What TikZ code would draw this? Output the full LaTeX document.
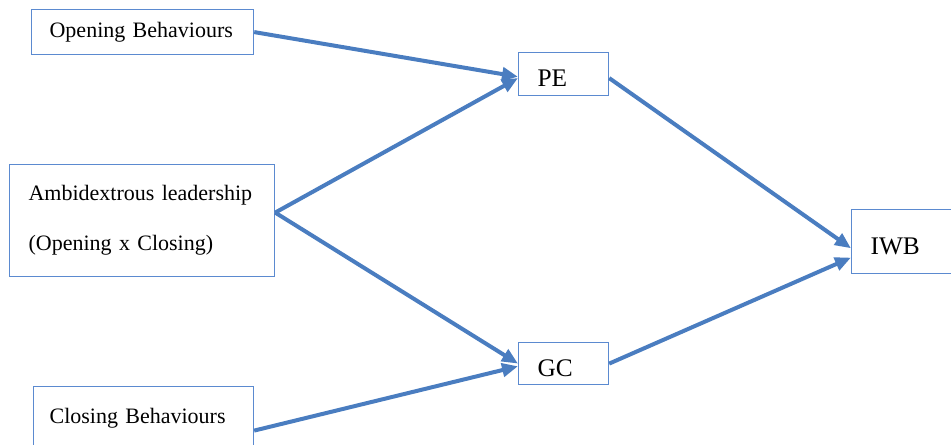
\documentclass[tikz,border=0pt]{standalone}
\usepackage{fontspec}
\setmainfont{Liberation Serif}
\usetikzlibrary{arrows.meta}
\definecolor{arrowblue}{HTML}{4A7DC0}
\definecolor{boxblue}{HTML}{5B8AD0}

\begin{document}
\begin{tikzpicture}[x=0.75pt,y=-0.75pt,
    box/.style={draw=boxblue,line width=0.9pt,anchor=north west,align=left,
      inner ysep=0pt,font=\fontsize{16.5}{37.5}\selectfont},
    var/.style={box,inner xsep=14.25pt,text width=39pt,text height=20pt,text depth=1pt,font=\fontsize{19}{22}\selectfont},
    link/.style={draw=arrowblue,line width=3pt,-{Triangle[length=12pt,width=10pt]}}]
      \useasboundingbox (0,0) rectangle (951,445);

      \path
      (31,9) node[box,inner xsep=13.5pt,text width=139.5pt,minimum height=33.75pt](open) {Opening Behaviours}
      (9,164) node[box,inner xsep=14.25pt,text width=170.25pt,minimum height=84pt](ambi) {Ambidextrous leadership\\(Opening x Closing)}
      (33,386) node[box,inner xsep=12pt,text width=141pt,minimum height=48pt](close) {Closing Behaviours}
      ;
      \path
      (518,52) node[var,minimum height=32.25pt](pe) {PE}
      (518,342) node[var,minimum height=31.5pt](gc) {GC}
      (851,209) node[var,text width=52pt,minimum height=48pt](iwb) {IWB}
      ;

      \draw[link] (open.east) -- ([yshift=-2pt]pe.west);
      \draw[link] ([yshift=6pt]ambi.east) -- ([yshift=-3pt]pe.west);
      \draw[link] ([yshift=6pt]ambi.east) -- (gc.west);
      \draw[link] ([yshift=-9pt]close.east) -- ([yshift=-2pt]gc.west);
      \draw[link] ([yshift=-3pt]pe.east) -- ([yshift=-5pt]iwb.west);
      \draw[link] (gc.east) -- ([yshift=-12pt]iwb.west);
    \end{tikzpicture}
\end{document}
